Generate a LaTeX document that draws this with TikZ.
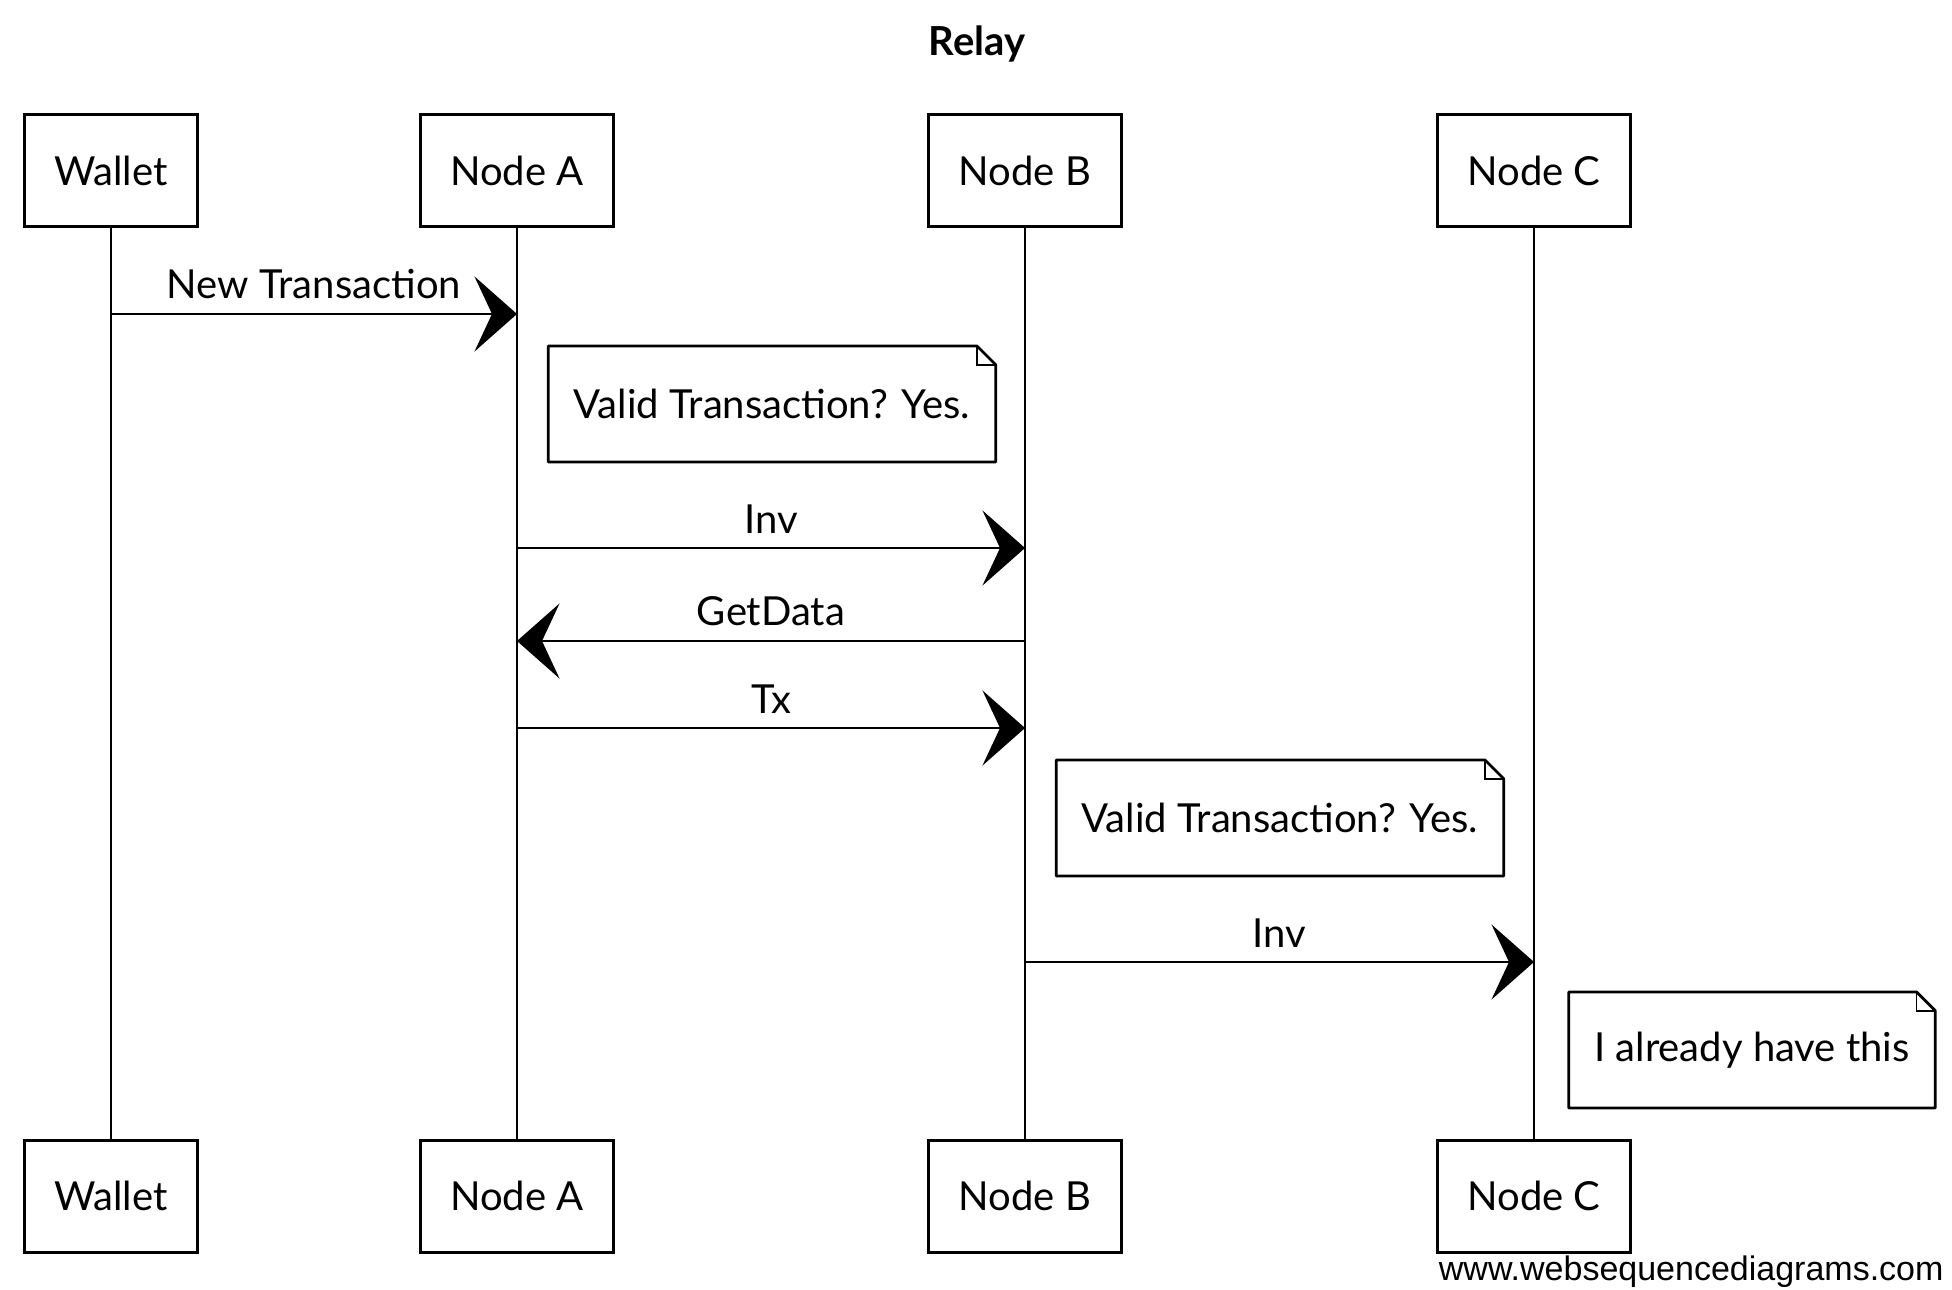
\documentclass[tikz,border=0pt]{standalone}
\usepackage{fontspec}
\setmainfont{Lato}
\newfontfamily\sitefont{Liberation Sans}
\usetikzlibrary{arrows.meta, positioning, calc}
% outline of a note with a folded corner
\newcommand{\noteoutline}[1]{%
  \draw[line width=1.1pt, line join=round]
    (#1.south west) -- (#1.north west) -- ([xshift=-7.5pt]#1.north east)
    -- ([yshift=-7.5pt]#1.north east) -- (#1.south east) -- cycle;
  \draw[line width=0.7pt]
    ([xshift=-7.5pt]#1.north east) |- ([yshift=-7.5pt]#1.north east);}

\begin{document}
\begin{tikzpicture}[x=0.4pt, y=-0.4pt,
      >={Stealth[length=17pt, width=30pt, inset=7pt]},
      actor/.style={draw, line width=1.2pt, fill=white, minimum height=44.8pt,
                    inner xsep=12pt, font=\fontsize{16}{19}\selectfont},
      note/.style={minimum height=46pt, inner xsep=10pt,
                   font=\fontsize{16}{19}\selectfont},
      lifeline/.style={line width=0.6pt},
      msg/.style={->, line width=1.1pt},
      lbl/.style={above=2pt, font=\fontsize{16}{19}\selectfont}]
    \useasboundingbox (0,0) rectangle (1952,1290);
    \node[font=\bfseries\fontsize{16}{19}\selectfont] (title) at (977,44) {Relay};
    % participants
    \node[actor] (walletT) at (111,171) {Wallet};
    \node[actor] (nodeAT)  at (517,171) {Node A};
    \node[actor] (nodeBT)  at (1025,171) {Node B};
    \node[actor] (nodeCT)  at (1534,171) {Node C};
    \node[actor] (walletB) at (111,1196) {Wallet};
    \node[actor] (nodeAB)  at (517,1196) {Node A};
    \node[actor] (nodeBB)  at (1025,1196) {Node B};
    \node[actor] (nodeCB)  at (1534,1196) {Node C};
    \draw[lifeline] (walletT) -- (walletB);
    \draw[lifeline] (nodeAT) -- (nodeAB);
    \draw[lifeline] (nodeBT) -- (nodeBB);
    \draw[lifeline] (nodeCT) -- (nodeCB);
    % message ends on the lifelines
    \coordinate (w1) at (walletT |- 0,314);
    \coordinate (a1) at (nodeAT |- 0,314);
    \coordinate (a2) at (nodeAT |- 0,548);
    \coordinate (b2) at (nodeBT |- 0,548);
    \coordinate (b3) at (nodeBT |- 0,641);
    \coordinate (a3) at (nodeAT |- 0,641);
    \coordinate (a4) at (nodeAT |- 0,728);
    \coordinate (b4) at (nodeBT |- 0,728);
    \coordinate (b5) at (nodeBT |- 0,962);
    \coordinate (c5) at (nodeCT |- 0,962);
    \draw[msg] (w1) -- node[lbl] {New Transaction} (a1);
    \node[note] (checkA) at (772,404) {Valid Transaction? Yes.};
    \noteoutline{checkA}
    \draw[msg] (a2) -- node[lbl] {Inv} (b2);
    \draw[msg] (b3) -- node[lbl] {GetData} (a3);
    \draw[msg] (a4) -- node[lbl] {Tx} (b4);
    \node[note] (checkB) at (1280,818) {Valid Transaction? Yes.};
    \noteoutline{checkB}
    \draw[msg] (b5) -- node[lbl] {Inv} (c5);
    \node[note] (haveC) at (1752,1050) {I already have this};
    \noteoutline{haveC}
    \node[anchor=south east, inner sep=0pt, font=\sitefont\fontsize{13.6}{16}\selectfont]
      (site) at (1944,1288) {www.websequencediagrams.com};
  \end{tikzpicture}
\end{document}
